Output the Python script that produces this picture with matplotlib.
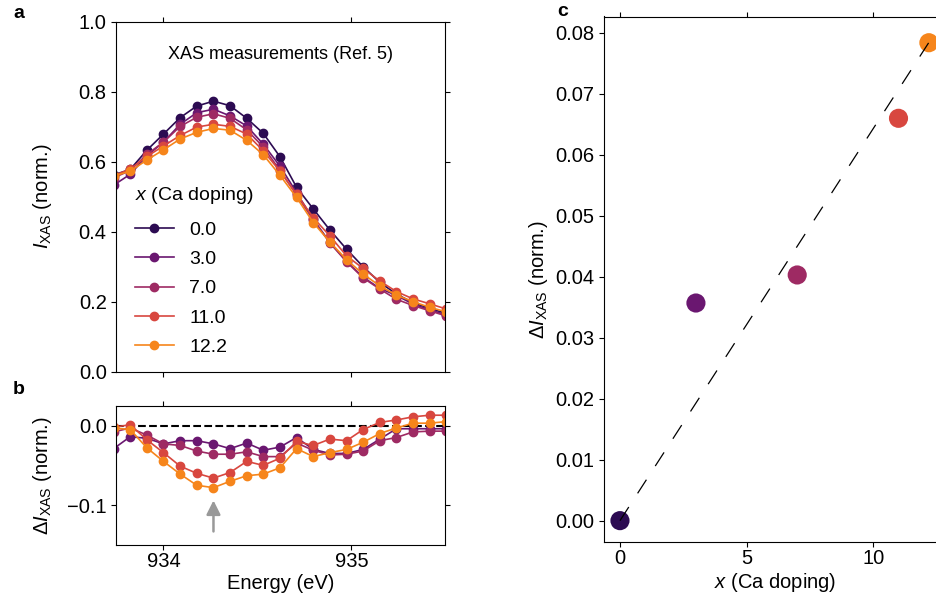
import numpy as np
import matplotlib.pyplot as plt

plt.rcParams['font.family'] = ['Liberation Sans', 'DejaVu Sans']
plt.rcParams['font.size'] = 14.5
plt.rcParams['mathtext.fontset'] = 'custom'
plt.rcParams['mathtext.rm'] = 'Liberation Sans'
plt.rcParams['mathtext.it'] = 'Liberation Sans:italic'
plt.rcParams['mathtext.bf'] = 'Liberation Sans:bold'

# Ca doping levels and the colour of each one
doping = [0.0, 3.0, 7.0, 11.0, 12.2]
colors = ['#2c0b52', '#6a1770', '#9e2a63', '#d8473f', '#f6851b']

# photon energy grid (eV)
energy = [933.735, 933.823, 933.912, 934.000, 934.089, 934.177, 934.266,
          934.354, 934.443, 934.531, 934.620, 934.708, 934.797, 934.885,
          934.974, 935.062, 935.151, 935.239, 935.328, 935.416, 935.505]

# undoped XAS spectrum (normalised)
xas_ca0 = [0.562, 0.578, 0.633, 0.679, 0.726, 0.759, 0.773, 0.760, 0.724,
           0.681, 0.614, 0.527, 0.465, 0.405, 0.350, 0.300, 0.255, 0.222,
           0.197, 0.181, 0.166]

# difference spectra I(x) - I(0)
d_ca3 = [-0.029, -0.014, -0.016, -0.023, -0.019, -0.019, -0.023, -0.029,
         -0.022, -0.031, -0.027, -0.015, -0.030, -0.035, -0.035, -0.030,
         -0.017, -0.004, -0.004, -0.004, -0.004]
d_ca7 = [-0.008, -0.003, -0.012, -0.023, -0.025, -0.032, -0.036, -0.036,
         -0.033, -0.039, -0.039, -0.022, -0.031, -0.037, -0.036, -0.032,
         -0.019, -0.015, -0.008, -0.007, -0.007]
d_ca11 = [-0.002, 0.001, -0.018, -0.034, -0.051, -0.060, -0.066, -0.059,
          -0.045, -0.050, -0.041, -0.020, -0.025, -0.017, -0.019, -0.005,
          0.004, 0.007, 0.011, 0.013, 0.013]
d_ca12 = [-0.003, -0.005, -0.028, -0.045, -0.061, -0.075, -0.078, -0.070,
          -0.063, -0.061, -0.053, -0.029, -0.039, -0.034, -0.030, -0.021,
          -0.010, -0.003, 0.003, 0.003, 0.005]

# intensity drop at the pre-edge peak vs doping, and linear trend
peak_drop = [0.0, 0.0357, 0.0403, 0.0660, 0.0784]
trend_slope = 0.00643
arrow_energy = 934.266

E = np.array(energy)
I0 = np.array(xas_ca0)
diffs = [np.zeros_like(I0)] + [np.array(d) for d in (d_ca3, d_ca7, d_ca11, d_ca12)]

fig = plt.figure(figsize=(9.37, 6), dpi=100)
ax_a = fig.add_axes([0.1243, 0.3805, 0.3511, 0.5833])
ax_b = fig.add_axes([0.1243, 0.0917, 0.3511, 0.2322])
ax_c = fig.add_axes([0.6449, 0.0967, 0.3640, 0.8758])

# (a) spectra
for x, c, d in zip(doping, colors, diffs):
    ax_a.plot(E, I0 + d, '-o', color=c, lw=1.2, ms=6, label=f'{x:.1f}')
ax_a.set_xlim(933.75, 935.5)
ax_a.set_ylim(0, 1.0)
ax_a.set_yticks([0, 0.2, 0.4, 0.6, 0.8, 1.0])
ax_a.set_xticks([934, 935])
ax_a.tick_params(direction='out', top=True, right=True, labelbottom=False)
ax_a.set_ylabel(r'$I_{\rm XAS}$ (norm.)')
ax_a.yaxis.set_label_coords(-0.19, 0.5)
ax_a.text(0.5, 0.905, 'XAS measurements (Ref. 5)', transform=ax_a.transAxes,
          ha='center', va='center', fontsize=13)
ax_a.text(0.056, 0.504, r'$x$ (Ca doping)', transform=ax_a.transAxes,
          ha='left', va='center', fontsize=14)
leg = ax_a.legend(loc='upper left', bbox_to_anchor=(0.056, 0.43),
                  frameon=False, borderpad=0, borderaxespad=0,
                  handlelength=2.0, handletextpad=0.8, labelspacing=0.6,
                  fontsize=14)

# (b) difference spectra
ax_b.axhline(0, color='black', ls='--', lw=1.5)
for c, d in zip(colors[1:], diffs[1:]):
    ax_b.plot(E, d, '-o', color=c, lw=1.2, ms=6)
ax_b.annotate('', xy=(arrow_energy, -0.094), xytext=(arrow_energy, -0.133),
              arrowprops=dict(arrowstyle='-|>', color='#999999', lw=1.8,
                              mutation_scale=21, shrinkA=0, shrinkB=0))
ax_b.set_xlim(933.75, 935.5)
ax_b.set_ylim(-0.15, 0.025)
ax_b.set_xticks([934, 935])
ax_b.set_yticks([-0.1, 0.0])
ax_b.tick_params(direction='out', top=True, right=True)
ax_b.tick_params(axis='x', pad=1.5)
ax_b.set_xlabel('Energy (eV)', labelpad=2)
ax_b.set_ylabel(r'$\Delta I_{\rm XAS}$ (norm.)')
ax_b.yaxis.set_label_coords(-0.19, 0.5)

# (c) peak drop vs doping
xfit = np.array([doping[0], doping[-1]])
ax_c.plot(xfit, trend_slope * xfit, color='black', lw=0.9,
          ls=(0, (13, 13)), zorder=3)
ax_c.scatter(doping, peak_drop, s=190, c=colors, edgecolors='none', zorder=2)
ax_c.set_xlim(-0.62, 12.85)
ax_c.set_ylim(-0.0035, 0.0827)
ax_c.set_xticks([0, 5, 10])
ax_c.set_yticks(np.arange(0, 0.081, 0.01))
ax_c.yaxis.set_major_formatter(plt.FormatStrFormatter('%.2f'))
ax_c.tick_params(direction='out', top=True)
ax_c.tick_params(axis='x', pad=1.5)
ax_c.set_xlabel(r'$x$ (Ca doping)', labelpad=2)
ax_c.set_ylabel(r'$\Delta I_{\rm XAS}$ (norm.)')

for lab, (px, py) in zip('abc', [(19, 14), (19, 389), (563, 12)]):
    fig.text(px / 937, 1 - py / 600, lab, fontsize=14, weight='bold',
             ha='center', va='center')

fig.savefig('out.png', dpi=100)
